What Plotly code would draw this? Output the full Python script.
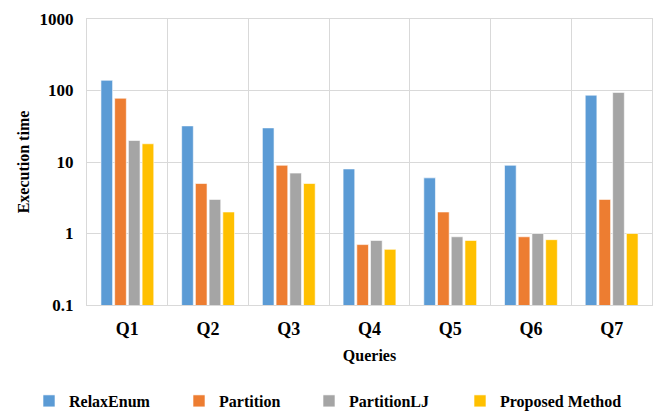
import plotly.graph_objects as go

# Query labels and execution times per method (log scale)
queries = ["Q1", "Q2", "Q3", "Q4", "Q5", "Q6", "Q7"]
relax_enum = [139, 32, 30, 8, 6, 9, 86]
partition = [78, 5, 9, 0.7, 2, 0.9, 3]
partition_lj = [20, 3, 7, 0.8, 0.9, 1.0, 94]
proposed = [18, 2, 5, 0.6, 0.8, 0.82, 1.0]

series = [
    ("RelaxEnum", relax_enum, "#5B9BD5"),
    ("Partition", partition, "#ED7D31"),
    ("PartitionLJ", partition_lj, "#A5A5A5"),
    ("Proposed Method", proposed, "#FFC000"),
]

font_family = "Liberation Serif, Times New Roman, serif"
grid_color = "#D9D9D9"

# one legend box per series so the entries sit in a single spaced row
legend_names = ["legend", "legend2", "legend3", "legend4"]
legend_left_px = [29, 179, 309, 460]

fig = go.Figure()
for (name, vals, color), lg in zip(series, legend_names):
    fig.add_trace(go.Bar(
        x=queries, y=vals, name=name, legend=lg,
        marker=dict(color=color, line=dict(color="rgba(255,255,255,0.6)", width=1)),
    ))

legend_style = dict(
    orientation="h", xref="container", yref="container",
    xanchor="left", y=1 - 384 / 414, yanchor="top",
    font=dict(family=font_family, size=16, color="#000000", weight="bold"),
    itemwidth=30, bgcolor="rgba(0,0,0,0)",
)
legends = {lg: dict(legend_style, x=px / 656) for lg, px in zip(legend_names, legend_left_px)}

fig.update_layout(
    width=656, height=414,
    margin=dict(l=87, r=4, t=19, b=109, autoexpand=False),
    paper_bgcolor="white", plot_bgcolor="white",
    barmode="group", bargap=0.32, bargroupgap=0.15,
    font=dict(family=font_family, color="#000000"),
    showlegend=True,
    **legends,
)

fig.update_xaxes(
    type="category", tickson="boundaries", ticks="",
    showgrid=True, gridcolor=grid_color, gridwidth=1,
    showline=True, linecolor=grid_color, linewidth=1, mirror=True,
    ticklabelstandoff=7,
    tickfont=dict(family=font_family, size=18, weight="bold"),
    title=dict(text="Queries", font=dict(family=font_family, size=16, weight="bold"), standoff=12),
)

fig.update_yaxes(
    type="log", range=[-1, 3],
    tickvals=[0.1, 1, 10, 100, 1000], ticktext=["0.1", "1", "10", "100", "1000"],
    showgrid=True, gridcolor=grid_color, gridwidth=1,
    showline=True, linecolor=grid_color, linewidth=1, mirror=True,
    zeroline=False, ticks="", ticklabelstandoff=9,
    tickfont=dict(family=font_family, size=17, weight="bold"),
    title=dict(text="Execution time", font=dict(family=font_family, size=16, weight="bold"), standoff=5),
)

fig.write_html("out.html")
